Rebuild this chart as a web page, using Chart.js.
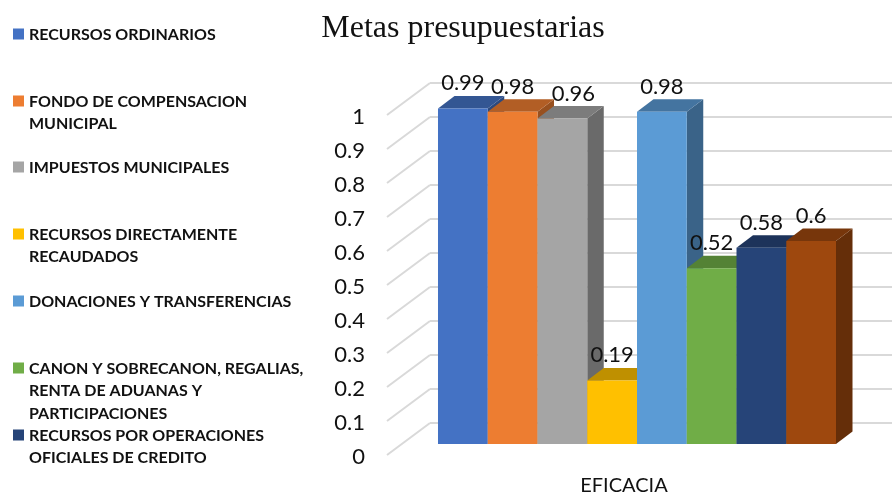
<!DOCTYPE html>
<html>
<head>
<meta charset="utf-8">
<title>Metas presupuestarias</title>
<script src="https://cdn.jsdelivr.net/npm/chart.js@4/dist/chart.umd.js"></script>
<style>
  html, body { margin: 0; padding: 0; background: #fff; }
  canvas { display: block; }
</style>
</head>
<body>
<canvas id="chart" width="892" height="494"></canvas>
<script>
const categories = ['EFICACIA'];
const seriesValues = [0.99, 0.98, 0.96, 0.19, 0.98, 0.52, 0.58, 0.6];
const seriesColors = ['#4472C4', '#ED7D31', '#A5A5A5', '#FFC000', '#5B9BD5', '#70AD47', '#264478', '#9E480E'];
const yTicks = [0, 0.1, 0.2, 0.3, 0.4, 0.5, 0.6, 0.7, 0.8, 0.9, 1];
// the brown bar has no entry in the original legend
const legendLabels = [
  ['RECURSOS ORDINARIOS'],
  ['FONDO DE COMPENSACION', 'MUNICIPAL'],
  ['IMPUESTOS MUNICIPALES'],
  ['RECURSOS DIRECTAMENTE', 'RECAUDADOS'],
  ['DONACIONES Y TRANSFERENCIAS'],
  ['CANON Y SOBRECANON, REGALIAS,', 'RENTA DE ADUANAS Y', 'PARTICIPACIONES'],
  ['RECURSOS POR OPERACIONES', 'OFICIALES DE CREDITO'],
];

const legendRowY = [34, 101, 167, 234, 301, 368, 435];
const legendLineHeight = 22.3;
const gridColor = '#D9D9D9';
const textColor = '#111';
const tickFont = { family: 'Lato', size: 22 };

// the bars stand in front of the back wall, which is where the scale lives
const barShift = { x: -24, y: 22 };
const barDepth = { x: 16.5, y: -12.5 };
const floorDepth = { x: 43, y: 32 };

function shade(hex, factor) {
  const channels = [1, 3, 5].map(i => Math.round(parseInt(hex.substr(i, 2), 16) * factor));
  return `rgb(${channels.join(',')})`;
}

function fillShape(ctx, color, points) {
  ctx.fillStyle = color;
  ctx.beginPath();
  points.forEach(([x, y], i) => (i ? ctx.lineTo(x, y) : ctx.moveTo(x, y)));
  ctx.closePath();
  ctx.fill();
}

const depthBars = {
  id: 'depthBars',
  beforeDatasetsDraw(chart) {
    const { ctx, chartArea, scales } = chart;
    // floor part of each gridline, running to the labels on the left
    ctx.save();
    ctx.strokeStyle = gridColor;
    ctx.lineWidth = 2;
    yTicks.forEach((v) => {
      const y = scales.y.getPixelForValue(v);
      ctx.beginPath();
      ctx.moveTo(chartArea.left - floorDepth.x, y + floorDepth.y);
      ctx.lineTo(chartArea.left, y);
      ctx.stroke();
    });
    ctx.restore();

    // painted left to right so each bar covers the side of the previous one
    ctx.save();
    ctx.translate(barShift.x, barShift.y);
    chart.getSortedVisibleDatasetMetas().forEach((meta, i) => {
      const bar = meta.data[0];
      const left = bar.x - bar.width / 2;
      const right = bar.x + bar.width / 2;
      const color = seriesColors[i];
      fillShape(ctx, shade(color, 0.64), [
        [right, bar.y], [right + barDepth.x, bar.y + barDepth.y],
        [right + barDepth.x, bar.base + barDepth.y], [right, bar.base],
      ]);
      fillShape(ctx, shade(color, 0.75), [
        [left, bar.y], [left + barDepth.x, bar.y + barDepth.y],
        [right + barDepth.x, bar.y + barDepth.y], [right, bar.y],
      ]);
      bar.draw(ctx);
    });
    ctx.restore();
    return false; // already drawn, in the right order
  },
  afterDraw(chart) {
    const { ctx } = chart;
    ctx.save();
    ctx.fillStyle = textColor;
    ctx.textBaseline = 'middle';

    // value labels
    ctx.textAlign = 'center';
    ctx.font = '22px Lato';
    chart.getSortedVisibleDatasetMetas().forEach((meta, i) => {
      const bar = meta.data[0];
      const nudge = i === 2 ? 11 : 0; // the 0.96 label sits off centre in the original
      ctx.fillText(String(seriesValues[i]), bar.x + barShift.x + nudge, bar.y + barShift.y - 25);
    });

    // title
    ctx.font = '32px "Liberation Serif"';
    ctx.fillText('Metas presupuestarias', 463, 29);

    // legend
    ctx.textAlign = 'left';
    ctx.font = 'bold 16px Lato';
    legendLabels.forEach((lines, i) => {
      ctx.fillStyle = seriesColors[i];
      ctx.fillRect(13, legendRowY[i] - 5.5, 11, 11);
      ctx.fillStyle = textColor;
      lines.forEach((line, j) => ctx.fillText(line, 29, legendRowY[i] + 1 + j * legendLineHeight));
    });
    ctx.restore();
  },
};

new Chart(document.getElementById('chart').getContext('2d'), {
  type: 'bar',
  plugins: [depthBars],
  data: {
    labels: categories,
    datasets: seriesValues.map((value, i) => ({
      data: [value],
      backgroundColor: seriesColors[i],
      borderWidth: 0,
    })),
  },
  options: {
    responsive: false,
    animation: false,
    layout: { padding: { top: 83 } },
    plugins: {
      legend: { display: false },
      title: { display: false },
      tooltip: { enabled: false },
    },
    datasets: { bar: { categoryPercentage: 0.8615, barPercentage: 1 } },
    scales: {
      x: {
        grid: { display: false },
        border: { display: false },
        ticks: { color: textColor, font: { family: 'Lato', size: 20 }, padding: 43, labelOffset: -37, maxRotation: 0 },
        afterFit(scale) { scale.height = 71; },
      },
      y: {
        min: 0,
        max: 1,
        afterBuildTicks(scale) { scale.ticks = yTicks.map(value => ({ value })); },
        grid: { color: gridColor, lineWidth: 2, drawTicks: false },
        border: { display: false },
        ticks: { color: textColor, font: tickFont, padding: 65, labelOffset: 34, callback: value => String(value) },
        afterFit(scale) {
          scale.width = 430;
          // tick labels are pushed down by hand, no room to reserve for them
          scale.paddingTop = 0;
          scale.paddingBottom = 0;
        },
      },
    },
  },
});
</script>
</body>
</html>
